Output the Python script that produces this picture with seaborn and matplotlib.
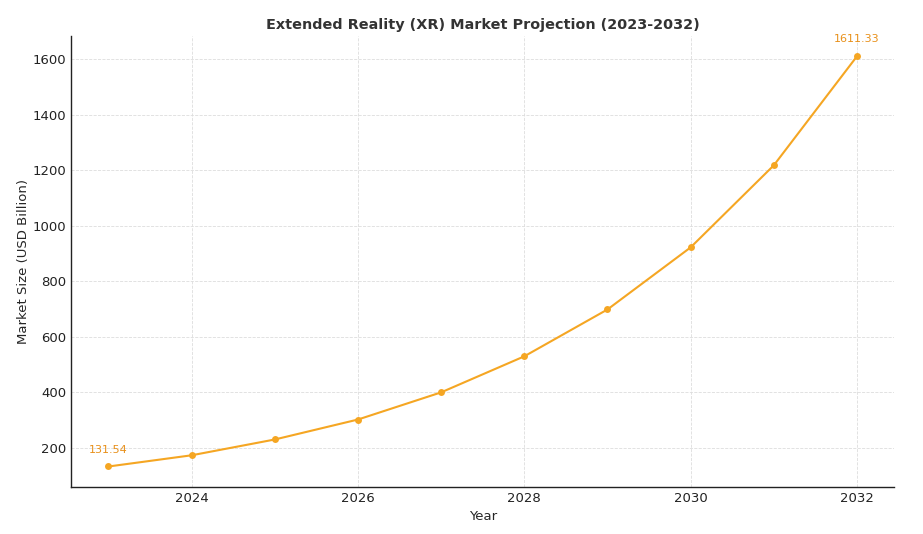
import matplotlib
matplotlib.use("Agg")
import matplotlib.pyplot as plt
import seaborn as sns
import pandas as pd

# Projected XR market size, USD billion
years = [2023, 2024, 2025, 2026, 2027, 2028, 2029, 2030, 2031, 2032]
market_size = [131.54, 172.0, 229.0, 301.0, 399.0, 529.0, 698.0, 922.0, 1218.0, 1611.33]

LINE_COLOR = "#f5a623"
LABEL_COLOR = "#e8901a"

df = pd.DataFrame({"Year": years, "Market Size": market_size})

sns.set_style("white")
plt.rcParams["font.family"] = ["DejaVu Sans"]

fig, ax = plt.subplots(figsize=(9.23, 5.34), dpi=100)
sns.lineplot(data=df, x="Year", y="Market Size", color=LINE_COLOR, marker="o",
             markersize=5, markeredgewidth=0, linewidth=1.5, ax=ax)

# label the first and last points
for i in (0, len(years) - 1):
    ax.annotate(f"{market_size[i]:.2f}", (years[i], market_size[i]),
                textcoords="offset points", xytext=(0, 10), ha="center",
                fontsize=8, color=LABEL_COLOR)

ax.set_title("Extended Reality (XR) Market Projection (2023-2032)",
             fontsize=10.4, fontweight="bold", color="#333333", pad=5)
ax.set_xlabel("Year", fontsize=9.5)
ax.set_ylabel("Market Size (USD Billion)", fontsize=9.5, labelpad=2)
ax.tick_params(axis="both", length=0, labelsize=9.5, colors="#222222")
ax.grid(True, linestyle="--", linewidth=0.6, color="#dddddd")
sns.despine(ax=ax)
for s in ("left", "bottom"):
    ax.spines[s].set_color("#222222")
    ax.spines[s].set_linewidth(1.0)

fig.subplots_adjust(left=0.077, right=0.969, top=0.933, bottom=0.088)
fig.savefig("out.png", dpi=100)
